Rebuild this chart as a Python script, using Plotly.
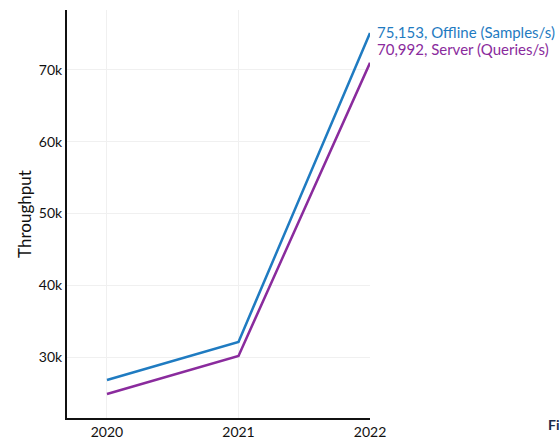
import plotly.graph_objects as go

years = [2020, 2021, 2022]
offline = [26800, 32100, 75153]
server = [24850, 30150, 70992]
offline_label = "75,153, Offline (Samples/s)"
server_label = "70,992, Server (Queries/s)"
blue = "#1f7bc1"
purple = "#8a2b9d"

fig = go.Figure()
fig.add_trace(go.Scatter(x=years, y=offline, mode="lines", line=dict(color=blue, width=2.5), showlegend=False))
fig.add_trace(go.Scatter(x=years, y=server, mode="lines", line=dict(color=purple, width=2.5), showlegend=False))

fig.add_annotation(x=years[-1], y=offline[-1], text=offline_label, showarrow=False, xanchor="left",
                   xshift=5, yshift=1, font=dict(color=blue, size=15))
fig.add_annotation(x=years[-1], y=server[-1], text=server_label, showarrow=False, xanchor="left",
                   xshift=5, yshift=14, font=dict(color=purple, size=15))
fig.add_annotation(xref="paper", yref="paper", x=(546-67)/303, y=-6/408, text="<b>Fi</b>",
                   showarrow=False, xanchor="left", yanchor="middle", font=dict(color="#1b2a4a", size=14))

fig.update_layout(
    width=560, height=440,
    margin=dict(l=67, r=190, t=10, b=22, autoexpand=False),
    plot_bgcolor="white", paper_bgcolor="white",
    font=dict(family="Lato, sans-serif", size=14, color="#111"),
    xaxis=dict(range=[2019.696, 2022], tickvals=years, ticktext=[str(y) for y in years],
               showgrid=True, gridcolor="#f0f0f0", showline=True, linecolor="#111", linewidth=2,
               ticks="", zeroline=False, automargin=False),
    yaxis=dict(range=[21500, 78360], tickvals=[30000, 40000, 50000, 60000, 70000],
               ticktext=["30k", "40k", "50k", "60k", "70k"],
               showgrid=True, gridcolor="#f0f0f0", showline=True, linecolor="#111", linewidth=2,
               ticks="", zeroline=False, automargin=False,
               title=dict(text="Throughput", standoff=3)),
)
fig.write_html("out.html", config={"displayModeBar": False},
               post_script="document.body.style.margin='0';document.body.style.overflow='hidden';")
